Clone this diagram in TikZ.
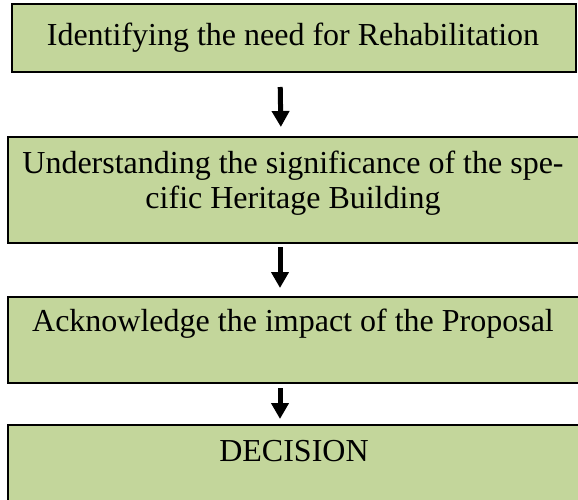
\documentclass[tikz,border=0pt]{standalone}
\usepackage{fontspec}
\setmainfont{Liberation Serif}
\usetikzlibrary{arrows.meta}
\definecolor{boxgreen}{RGB}{195,214,155}
\tikzset{
  stagebox/.style={draw=black, line width=2pt, fill=boxgreen, inner sep=0pt, anchor=center},
  stagetext/.style={font=\fontsize{32}{35}\selectfont, align=center, inner sep=0pt, anchor=base},
  flowarrow/.style={line width=5pt, -{Triangle[width=17pt,length=16pt]}},
}
\begin{document}
\begin{tikzpicture}[x=1pt,y=-1pt]
  \useasboundingbox (0,0) rectangle (578,500);
  % stage boxes
  \node[stagebox, minimum width=564pt, minimum height=68pt]  (b1) at (294,38)    {};
  \node[stagebox, minimum width=574pt, minimum height=106pt] (b2) at (295,190)   {};
  \node[stagebox, minimum width=574pt, minimum height=86pt]  (b3) at (295,340)   {};
  \node[stagebox, minimum width=574pt, minimum height=95pt]  (b4) at (295,472.5) {};
  % stage labels (a two-line label is placed by its last baseline)
  \node[stagetext] (t1) at (293,46)  {Identifying the need for Rehabilitation};
  \node[stagetext] (t2) at (293,208) {Understanding the significance of the spe-\\cific Heritage Building};
  \node[stagetext] (t3) at (293,331) {Acknowledge the impact of the Proposal};
  \node[stagetext] (t4) at (294,461) {DECISION};
  % arrows between stages
  \draw[flowarrow, shorten <=14pt, shorten >=9pt] ([xshift=-14pt]b1.south) -- ([xshift=-14pt]b2.north);
  \draw[flowarrow, shorten <=3pt,  shorten >=8pt] ([xshift=-15pt]b2.south) -- ([xshift=-15pt]b3.north);
  \draw[flowarrow, shorten <=4pt,  shorten >=5pt] ([xshift=-15pt]b3.south) -- ([xshift=-15pt]b4.north);
\end{tikzpicture}
\end{document}
